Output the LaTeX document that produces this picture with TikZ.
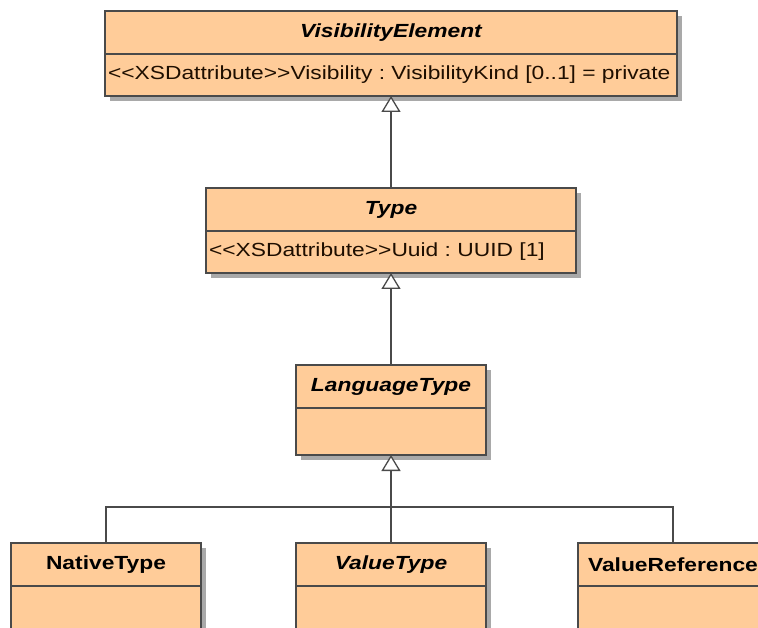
\documentclass[tikz,border=0pt]{standalone}
\usepackage{fontspec}
\setmainfont{Liberation Sans}[FakeStretch=1.2, Ligatures=TeXOff]
\usetikzlibrary{arrows.meta,positioning,shadows}
\definecolor{umlFill}{HTML}{FFCC99}
\definecolor{umlLine}{HTML}{4A4A4A}
\definecolor{umlShade}{HTML}{A9A9A9}
\definecolor{umlText}{HTML}{1E0E00}
\frenchspacing
\tikzset{
  umlshadow/.style={drop shadow={shadow xshift=5pt, shadow yshift=-5pt, fill=umlShade, opacity=1}},
  classhead/.style={rectangle, draw=umlLine, fill=umlFill, line width=1.5pt, minimum height=43pt, inner sep=0pt, outer sep=0pt, anchor=north west, umlshadow, font=\fontsize{19}{22}\selectfont\bfseries\itshape},
  concrete/.style={font=\fontsize{19}{22}\selectfont\bfseries},
  classbody/.style={rectangle, draw=umlLine, fill=umlFill, line width=1.5pt, minimum height=42pt, inner xsep=3pt, inner ysep=0pt, outer sep=0pt, align=left, umlshadow, text=umlText, font=\fontsize{19}{22}\selectfont},
  link/.style={line width=1.3pt, draw=umlLine},
  gen/.style={link, -{Triangle[length=16pt,width=19pt,fill=white]}}
}
\begin{document}
\begin{tikzpicture}[x=1pt,y=-1pt]
  \useasboundingbox (0,0) rectangle (758,628);
  \clip (0,0) rectangle (758,628);
  % abstract classes
  \node[classhead, minimum width=572pt] (vhead) at (105,11) {VisibilityElement};
  \node[classbody, text width=566pt, below=0pt of vhead] (vbody) {<<XSDattribute>>Visibility : VisibilityKind [0..1] = private};
  \node[classhead, minimum width=370pt] (thead) at (206,188) {Type};
  \node[classbody, text width=364pt, below=0pt of thead] (tbody) {<<XSDattribute>>Uuid : UUID [1]};
  \node[classhead, minimum width=190pt] (lhead) at (296,365) {LanguageType};
  \node[classbody, text width=184pt, minimum height=47pt, below=0pt of lhead] (lbody) {};
  % subclasses of LanguageType
  \node[classhead, concrete, minimum width=190pt] (nhead) at (11,543) {NativeType};
  \node[classbody, text width=184pt, minimum height=60pt, below=0pt of nhead] (nbody) {};
  \node[classhead, minimum width=190pt] (vthead) at (296,543) {ValueType};
  \node[classbody, text width=184pt, minimum height=60pt, below=0pt of vthead] (vtbody) {};
  \node[classhead, concrete, minimum width=190pt] (rhead) at (578,543) {ValueReference};
  \node[classbody, text width=184pt, minimum height=60pt, below=0pt of rhead] (rbody) {};
  % generalisations
  \draw[gen] (thead.north) -- (vbody.south);
  \draw[gen] (lhead.north) -- (tbody.south);
  \draw[gen] (vthead.north) -- (lbody.south);
  \coordinate (bar) at (391,507);
  \draw[link] (nhead.north) |- (bar) -| (rhead.north);
\end{tikzpicture}
\end{document}
